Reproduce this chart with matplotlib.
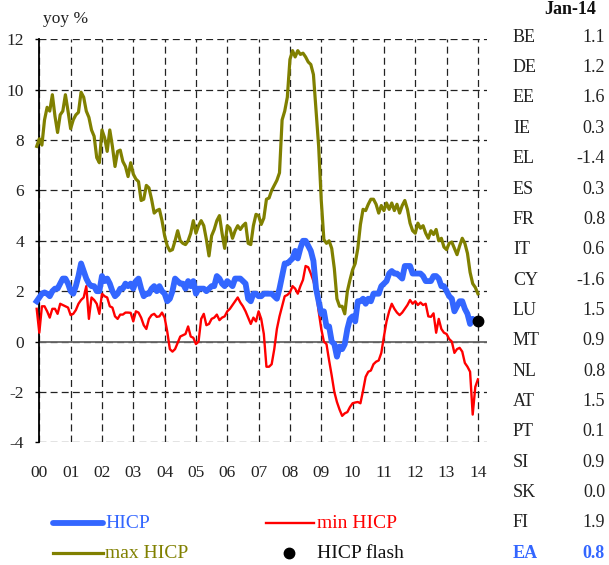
import matplotlib
matplotlib.use("Agg")
import matplotlib.pyplot as plt
import numpy as np
from matplotlib.lines import Line2D

# ---------------- data ----------------
start_year, start_month = 1999, 12   # first monthly observation

hicp = [1.6,
        1.75, 1.9, 1.95, 1.9, 1.8, 2.0, 2.1, 2.1, 2.3, 2.5, 2.5, 2.3,
        2.0, 1.9, 2.2, 2.6, 3.1, 2.8, 2.5, 2.3, 2.2, 2.2, 2.0, 2.0,
        2.6, 2.4, 2.5, 2.3, 2.0, 1.8, 1.9, 2.1, 2.1, 2.3, 2.2, 2.3,
        2.1, 2.4, 2.5, 2.1, 1.8, 1.9, 1.9, 2.1, 2.2, 2.0, 2.2, 2.0,
        1.9, 1.6, 1.7, 2.0, 2.5, 2.4, 2.3, 2.3, 2.1, 2.4, 2.2, 2.4,
        1.9, 2.1, 2.1, 2.1, 2.0, 2.1, 2.2, 2.2, 2.6, 2.5, 2.3, 2.2,
        2.4, 2.3, 2.2, 2.5, 2.5, 2.5, 2.4, 2.3, 1.7, 1.6, 1.9, 1.9,
        1.8, 1.8, 1.9, 1.9, 1.9, 1.9, 1.8, 1.7, 2.1, 2.6, 3.1, 3.1,
        3.2, 3.3, 3.6, 3.3, 3.7, 4.0, 4.0, 3.8, 3.6, 3.2, 2.1, 1.6,
        1.1, 1.2, 0.6, 0.6, 0.0, -0.1, -0.6, -0.2, -0.3, -0.1, 0.5, 0.9,
        1.0, 0.8, 1.6, 1.6, 1.7, 1.5, 1.7, 1.6, 1.9, 1.9, 1.9, 2.2,
        2.3, 2.4, 2.7, 2.8, 2.7, 2.7, 2.6, 2.5, 3.0, 3.0, 3.0, 2.7,
        2.7, 2.7, 2.7, 2.6, 2.4, 2.4, 2.4, 2.6, 2.6, 2.5, 2.2, 2.2,
        2.0, 1.8, 1.7, 1.2, 1.4, 1.6, 1.6, 1.3, 1.1, 0.7, 0.9, 0.8,
        0.8]

hicp_min = [1.3,
            0.35, 1.4, 1.4, 1.2, 0.95, 1.3, 1.3, 1.1, 1.5, 1.45, 1.4, 1.35,
            1.05, 1.1, 1.25, 1.5, 1.65, 1.75, 2.2, 0.9, 1.75, 1.65, 1.5, 1.1,
            1.9, 1.8, 1.75, 1.4, 1.35, 1.0, 0.9, 1.07, 1.07, 1.15, 1.15, 1.14,
            0.8, 1.2, 1.15, 0.95, 0.65, 0.5, 0.9, 1.05, 1.1, 0.98, 1.0, 1.15,
            0.95, 0.4, -0.3, -0.4, -0.3, -0.05, 0.2, 0.25, 0.3, 0.6, 0.2, 0.15,
            -0.1, 0.0, 0.9, 1.1, 0.65, 0.7, 0.9, 0.95, 1.07, 0.85, 0.95, 1.0,
            1.2, 1.3, 1.45, 1.6, 1.75, 1.55, 1.4, 1.2, 0.95, 0.7, 0.95, 0.8,
            1.2, 0.9, 0.3, -1.0, -1.0, -0.9, -0.3, 0.5, 1.0, 1.4, 1.8, 1.85,
            1.95, 2.2, 2.1, 1.9, 2.2, 2.45, 3.0, 2.95, 2.7, 2.4, 2.0, 1.2,
            0.5, 0.0, -0.1, -0.75, -1.35, -2.0, -2.4, -2.7, -2.95, -2.85, -2.8, -2.6,
            -2.45, -2.42, -2.4, -2.45, -1.95, -1.4, -1.2, -1.15, -0.9, -0.8, -0.75, -0.45,
            0.2, 0.8, 1.2, 1.5, 1.3, 1.15, 1.05, 1.15, 1.3, 1.45, 1.65, 1.5,
            1.6, 1.45, 1.55, 1.45, 1.5, 1.0, 0.98, 1.12, 0.35, 0.9, 0.5, 0.35,
            0.3, 0.1, 0.0, -0.45, -0.3, -0.25, -0.4, -0.85, -1.0, -1.2, -2.9, -1.8,
            -1.5]

hicp_max = [7.75,
            8.05, 7.8, 8.8, 9.3, 9.15, 9.8, 8.95, 8.3, 9.0, 9.15, 9.8, 9.15,
            8.45, 8.8, 9.0, 9.1, 9.9, 9.7, 9.15, 8.9, 8.4, 8.15, 7.3, 7.1,
            8.4, 8.1, 7.55, 8.4, 7.75, 6.95, 7.55, 7.6, 7.15, 6.95, 6.55, 7.1,
            6.65, 6.45, 6.35, 5.6, 5.65, 6.2, 6.1, 5.65, 5.1, 5.2, 5.25, 4.8,
            4.2, 3.8, 3.6, 3.65, 4.0, 4.4, 4.0, 3.9, 3.85, 4.0, 4.3, 4.8,
            4.3, 4.6, 4.8, 4.6, 4.05, 3.4, 4.2, 4.45, 4.8, 5.0, 4.3, 3.7,
            4.6, 4.5, 4.1, 4.4, 4.6, 4.45, 4.6, 4.7, 3.9, 3.85, 4.6, 5.05,
            5.0, 4.65, 4.9, 5.65, 5.7, 6.0, 6.2, 6.4, 6.7, 8.8, 9.15, 9.7,
            11.2, 11.55, 11.3, 11.55, 11.4, 11.45, 11.3, 11.1, 11.0, 10.6, 9.2, 7.75,
            5.6, 4.05, 3.9, 4.0, 3.7, 2.9, 1.7, 1.4, 1.4, 1.1, 2.0, 2.45,
            2.85, 3.1, 3.7, 4.65, 5.25, 5.2, 5.45, 5.65, 5.65, 5.45, 5.1, 5.4,
            5.2, 5.5, 5.25, 5.5, 5.2, 5.45, 5.1, 5.4, 5.6, 5.25, 4.7, 4.4,
            4.3, 4.7, 4.5, 4.6, 4.3, 4.1, 4.4, 4.25, 4.45, 4.0, 4.1, 3.75,
            3.65, 3.9, 3.95, 3.7, 3.45, 3.8, 4.1, 3.9, 3.5, 2.75, 2.3, 2.15,
            1.9]

flash_year, flash_month = 2014, 1
hicp_flash = 0.8

year_ticks = list(range(2000, 2015))
year_labels = ["00", "01", "02", "03", "04", "05", "06", "07", "08", "09",
               "10", "11", "12", "13", "14"]

table_title = "Jan-14"
countries = ["BE", "DE", "EE", "IE", "EL", "ES", "FR", "IT", "CY", "LU",
             "MT", "NL", "AT", "PT", "SI", "SK", "FI", "EA"]
country_values = [1.1, 1.2, 1.6, 0.3, -1.4, 0.3, 0.8, 0.6, -1.6, 1.5,
                  0.9, 0.8, 1.5, 0.1, 0.9, 0.0, 1.9, 0.8]

# ---------------- style ----------------
plt.rcParams["font.family"] = ["Liberation Serif", "DejaVu Serif"]
plt.rcParams["lines.scale_dashes"] = False

BLUE = "#3366ff"
RED = "#ff0000"
OLIVE = "#808000"

W, H = 609, 565
fig = plt.figure(figsize=(W / 100, H / 100), dpi=100)


def fx(px):
    return px / W


def fy(py):
    return 1 - py / H


ax_left, ax_right, ax_top, ax_bottom = 39.3, 487, 39.3, 442.3
ax = fig.add_axes([fx(ax_left), fy(ax_bottom), fx(ax_right - ax_left),
                   (ax_bottom - ax_top) / H])

n = len(hicp)
x = start_year + (start_month - 1) / 12 + np.arange(n) / 12
x_flash = flash_year + (flash_month - 1) / 12

ax.plot(x, hicp_max, color=OLIVE, lw=2.3, zorder=3, clip_on=False,
        solid_joinstyle="round")
ax.plot(x, hicp_min, color=RED, lw=1.7, zorder=4, clip_on=False,
        solid_joinstyle="round")
ax.plot(x, hicp, color=BLUE, lw=4.2, zorder=5, clip_on=False,
        solid_joinstyle="round")
ax.plot([x_flash], [hicp_flash], "o", color="black", ms=7.5, zorder=6,
        clip_on=False)

ax.set_xlim(2000, 2014.29)
ax.set_ylim(-4, 12)
ax.set_yticks(range(-4, 13, 2))
ax.set_yticklabels([str(v) for v in range(-4, 13, 2)], fontsize=12.5)
ax.set_xticks(year_ticks)
ax.set_xticklabels(year_labels, fontsize=12.5)

ax.grid(True, color="#222222", lw=0.9, linestyle=(0, (5, 3)))
ax.set_axisbelow(True)
ax.axhline(0, color="#666666", lw=1.3, zorder=2)

for s in ["top", "right", "bottom"]:
    ax.spines[s].set_visible(False)
ax.spines["left"].set_color("black")
ax.spines["left"].set_linewidth(1.3)
ax.tick_params(axis="y", direction="out", length=3, width=1, pad=8,
               colors="black", labelcolor="#222222")
ax.tick_params(axis="x", length=0, pad=16, labelcolor="#222222")

# y unit label
fig.text(fx(43), fy(19), "yoy %", fontsize=12.5, ha="left", va="center",
         color="#222222")

# ---------------- legend (manual) ----------------
leg_fs = 14
rows = [523, 553]
fig.add_artist(Line2D([fx(53), fx(103)], [fy(rows[0])] * 2, color=BLUE, lw=4.2,
                      solid_capstyle="round"))
fig.text(fx(105), fy(rows[0]), "HICP", color=BLUE, fontsize=leg_fs,
         ha="left", va="center")
fig.add_artist(Line2D([fx(53), fx(103)], [fy(rows[1])] * 2, color=OLIVE, lw=2.3))
fig.text(fx(105), fy(rows[1]), "max HICP", color=OLIVE, fontsize=leg_fs,
         ha="left", va="center")
fig.add_artist(Line2D([fx(266), fx(314)], [fy(rows[0])] * 2, color=RED, lw=1.7))
fig.text(fx(317), fy(rows[0]), "min HICP", color=RED, fontsize=leg_fs,
         ha="left", va="center")
fig.add_artist(Line2D([fx(289)], [fy(rows[1])], marker="o", color="black",
                      ms=7.5, lw=0))
fig.text(fx(317), fy(rows[1]), "HICP flash", color="#111111", fontsize=leg_fs,
         ha="left", va="center")

# ---------------- country table ----------------
fig.text(fx(570), fy(9), table_title, fontsize=13, fontweight="bold",
         ha="center", va="center", color="#111111")
row0, step = 37.3, 30.35
for i, (c, v) in enumerate(zip(countries, country_values)):
    yy = fy(row0 + i * step)
    is_ea = c == "EA"
    col = BLUE if is_ea else "#222222"
    fw = "bold" if is_ea else "normal"
    fig.text(fx(513), yy, c, fontsize=13, ha="left", va="center",
             color=col, fontweight=fw)
    fig.text(fx(605), yy, f"{v:.1f}", fontsize=13, ha="right", va="center",
             color=col, fontweight=fw)

fig.savefig("out.png", dpi=100)
